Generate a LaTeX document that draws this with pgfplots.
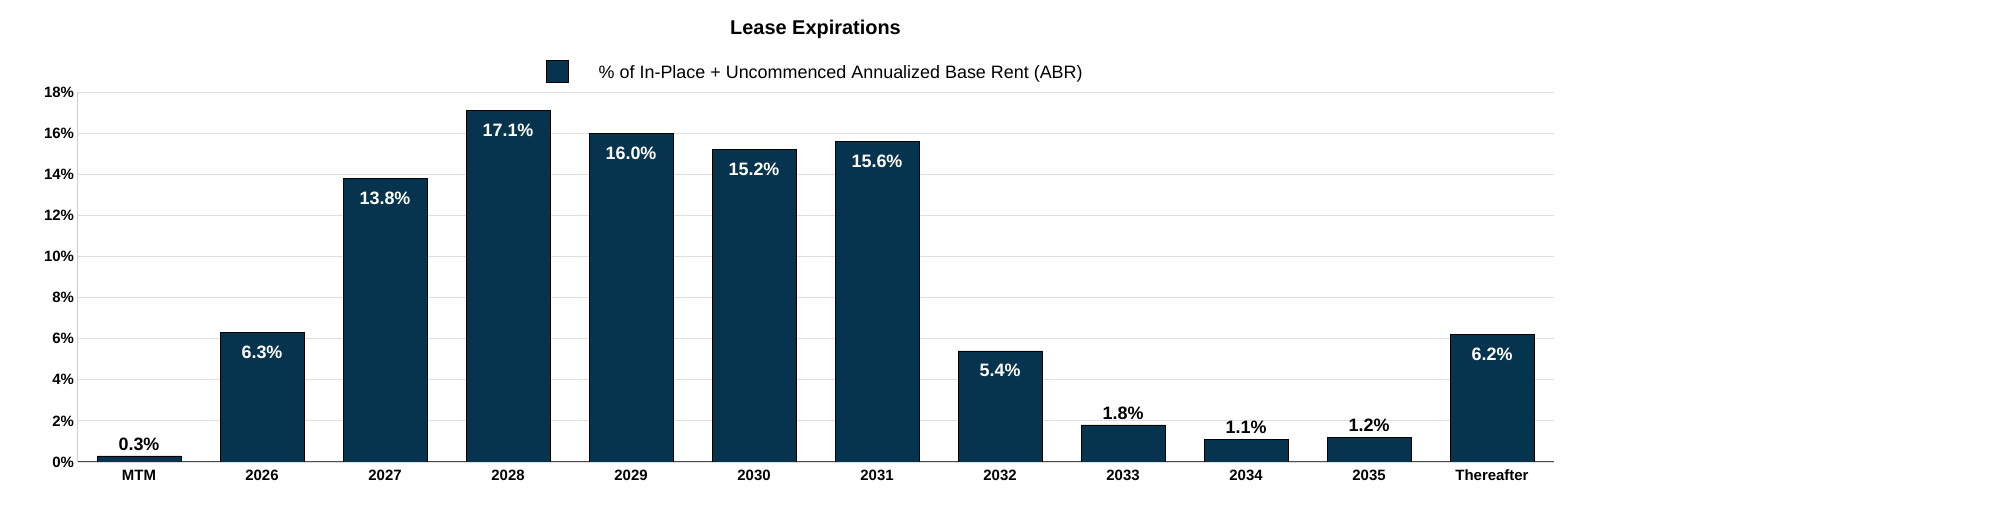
\documentclass[border=0pt]{standalone}
\usepackage{pgfplots}
\pgfplotsset{compat=1.18}
\usepackage{fontspec}
\setmainfont{Liberation Sans}
\definecolor{navy}{HTML}{06344F}
\begin{document}
\begin{tikzpicture}[x=1bp,y=1bp]
\begin{axis}[
  at={(77.5bp,56bp)}, anchor=south west,
  scale only axis, width=1476bp, height=370bp,
  xmin=-0.5, xmax=11.5, ymin=0, ymax=18,
  xtick={0,...,11},
  xticklabels={MTM,2026,2027,2028,2029,2030,2031,2032,2033,2034,2035,Thereafter},
  ytick={0,2,...,18},
  yticklabel={\pgfmathprintnumber{\tick}\%},
  /pgf/number format/assume math mode=true,
  ticklabel style={font=\bfseries\fontsize{15}{17}\selectfont},
  ymajorgrids, grid style={gray!25, line width=0.8pt},
  axis x line*=bottom, axis y line*=left,
  x axis line style={black!70, line width=1pt},
  y axis line style={gray!40},
  tick style={draw=none},
  xtick style={draw=none},
  ybar, bar width=84bp,
  title={\bfseries\fontsize{20}{22}\selectfont Lease Expirations},
  title style={yshift=44bp},
  legend style={at={(0.5,1.02)}, anchor=south, draw=none, font=\fontsize{18}{20}\selectfont},
  legend image code/.code={\draw[fill=navy,draw=black] (0,-9bp) rectangle (22bp,13bp);},
  legend cell align=left,
]
\addplot[fill=navy, draw=black, bar shift=0pt,
  nodes near coords={\pgfmathprintnumber[fixed,fixed zerofill,precision=1]{\pgfplotspointmeta}\%},
  every node near coord/.append style={anchor=north, yshift=-10bp, text=white, font=\bfseries\fontsize{18}{20}\selectfont}]
  coordinates {(1,6.3) (2,13.8) (3,17.1) (4,16.0) (5,15.2) (6,15.6) (7,5.4) (11,6.2)};
\addlegendentry{\hspace{28bp}\% of In-Place + Uncommenced Annualized Base Rent (ABR)}
\addplot[fill=navy, draw=black, bar shift=0pt, forget plot,
  nodes near coords={\pgfmathprintnumber[fixed,fixed zerofill,precision=1]{\pgfplotspointmeta}\%},
  every node near coord/.append style={anchor=south, yshift=2bp, text=black, font=\bfseries\fontsize{18}{20}\selectfont}]
  coordinates {(0,0.3) (8,1.8) (9,1.1) (10,1.2)};
\end{axis}
\pgfresetboundingbox
\useasboundingbox (0,0) rectangle (1992,518);
\end{tikzpicture}
\end{document}
